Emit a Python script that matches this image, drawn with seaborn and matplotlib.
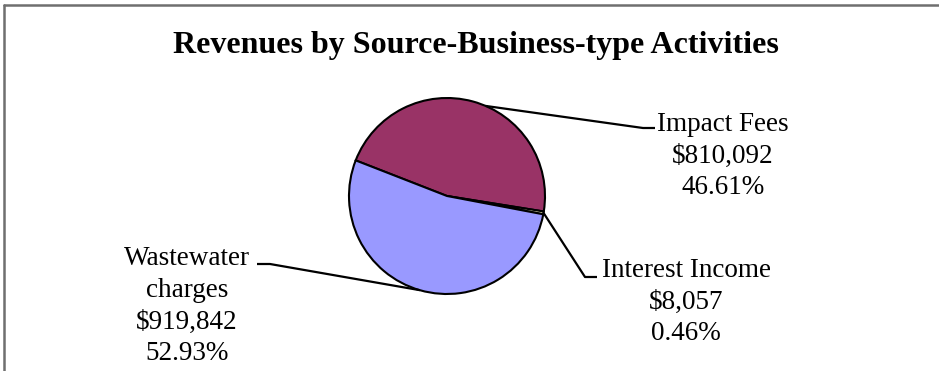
import numpy as np
import matplotlib
matplotlib.use("Agg")
import matplotlib.pyplot as plt
from matplotlib.lines import Line2D
import seaborn as sns

# ---- data ----
categories = ["Impact Fees", "Interest Income", "Wastewater charges"]
label_names = ["Impact Fees", "Interest Income", "Wastewater\ncharges"]
amounts = [810092, 8057, 919842]
colors = ["#993366", "#FFFFCC", "#9999FF"]
title = "Revenues by Source-Business-type Activities"

# ---- style ----
sns.set_theme(style="white")
plt.rcParams['font.family'] = ['Liberation Serif', 'DejaVu Serif']

W, H = 939, 371
fig = plt.figure(figsize=(W / 100, H / 100), dpi=100)
ax = fig.add_axes([0, 0, 1, 1])

def Y(py):
    return H - py

center = (447, Y(196))
radius = 98
wedges, _ = ax.pie(amounts, colors=colors, startangle=158.7, counterclock=False,
                   center=center, radius=radius,
                   wedgeprops=dict(edgecolor="black", linewidth=1.5))
ax.set_xlim(0, W)
ax.set_ylim(0, H)
ax.set_aspect("equal")
ax.axis("off")

total = sum(amounts)
# label layout in pixels: anchor angle shift, elbow, line end, text centre
anchor_shift = [-8, 0, 0]
elbows = [(643, 128), (585, 277), (270, 264)]
ends = [(655, 128), (597, 277), (257, 264)]
text_pos = [(723, 156), (686, 302), (187, 306)]

for w, name, amt, sh, el, en, tp in zip(wedges, label_names, amounts,
                                        anchor_shift, elbows, ends, text_pos):
    mid = np.deg2rad((w.theta1 + w.theta2) / 2 + sh)
    ax_ = center[0] + radius * np.cos(mid)
    ay_ = center[1] + radius * np.sin(mid)
    ax.plot([ax_, el[0], en[0]], [ay_, Y(el[1]), Y(en[1])], color="black",
            lw=1.6, solid_capstyle="butt", zorder=5)
    txt = f"{name}\n${amt:,.0f}\n{amt / total * 100:.2f}%"
    ax.text(tp[0], Y(tp[1]), txt, ha="center", va="center",
            multialignment="center", fontsize=19.5, color="black",
            linespacing=1.36)

ax.text(476, Y(45), title, ha="center", va="center", fontsize=23,
        fontweight="bold", color="black")

# border (top and left)
fig.add_artist(Line2D([4 / W, 1], [1 - 5 / H, 1 - 5 / H],
                      transform=fig.transFigure, color="#6f6f6f", lw=1.8))
fig.add_artist(Line2D([4 / W, 4 / W], [0, 1 - 5 / H],
                      transform=fig.transFigure, color="#6f6f6f", lw=1.8))

fig.savefig("out.png", dpi=100, facecolor="white")
